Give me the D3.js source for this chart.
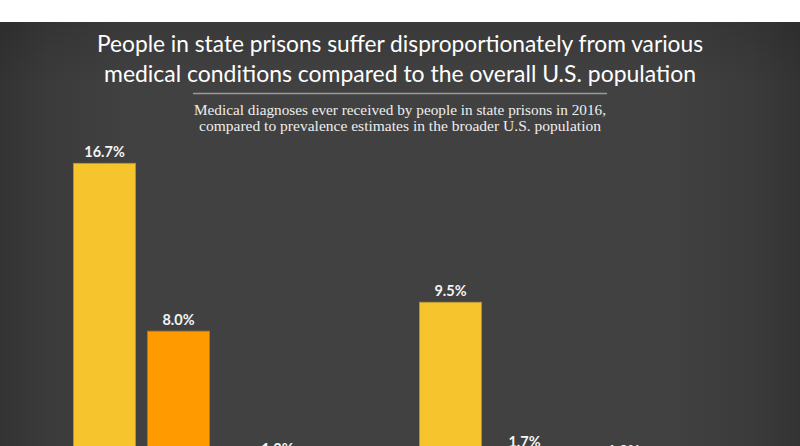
<!DOCTYPE html>
<html>
<head>
<meta charset="utf-8">
<script src="https://cdn.jsdelivr.net/npm/d3@7"></script>
<style>
  html, body { margin: 0; padding: 0; background: #ffffff; }
  svg { display: block; }
</style>
</head>
<body>
<div id="chart"></div>
<script>
// ---- data ----
const categories = ["Condition 1", "Condition 2", "Condition 3", "Condition 4"];
const seriesNames = ["People in state prisons", "U.S. population"];
const prisonValues = [16.7, 1.3, 9.5, 1.2];
const usValues = [8.0, 0.4, 1.7, 0.3];
const titleLines = [
  "People in state prisons suffer disproportionately from various",
  "medical conditions compared to the overall U.S. population"
];
const subtitleLines = [
  "Medical diagnoses ever received by people in state prisons in 2016,",
  "compared to prevalence estimates in the broader U.S. population"
];

const W = 800, H = 446;
const svg = d3.select("#chart").append("svg")
  .attr("width", W).attr("height", H)
  .style("overflow", "hidden");

const defs = svg.append("defs");
const g = defs.append("linearGradient").attr("id", "bg")
  .attr("x1", "0%").attr("x2", "100%").attr("y1", "0%").attr("y2", "0%");
[[0, "#333333"], [0.06, "#3b3b3b"], [0.16, "#414141"], [0.84, "#414141"], [0.94, "#3b3b3b"], [1, "#333333"]]
  .forEach(([o, c]) => g.append("stop").attr("offset", o).attr("stop-color", c));
const gv = defs.append("linearGradient").attr("id", "bgv")
  .attr("x1", "0%").attr("x2", "0%").attr("y1", "0%").attr("y2", "100%");
gv.append("stop").attr("offset", 0).attr("stop-color", "#000").attr("stop-opacity", 0.12);
gv.append("stop").attr("offset", 0.15).attr("stop-color", "#000").attr("stop-opacity", 0);

svg.append("rect").attr("x", 0).attr("y", 0).attr("width", W).attr("height", H).attr("fill", "#ffffff");
svg.append("rect").attr("x", 0).attr("y", 22).attr("width", W).attr("height", H - 22).attr("fill", "url(#bg)");
svg.append("rect").attr("x", 0).attr("y", 22).attr("width", W).attr("height", H - 22).attr("fill", "url(#bgv)");

// ---- titles ----
const titleFont = "Lato, 'Open Sans', sans-serif";
const titleBase = [52, 81.5];
const titleLen = [606, 592];
titleLines.forEach((t, i) => {
  svg.append("text")
    .attr("x", 400).attr("y", titleBase[i])
    .attr("text-anchor", "middle")
    .attr("font-family", titleFont)
    .attr("font-size", 23.5)
    .attr("fill", "#ffffff")
    .attr("textLength", titleLen[i])
    .attr("lengthAdjust", "spacingAndGlyphs")
    .text(t);
});

svg.append("line")
  .attr("x1", 193).attr("x2", 607).attr("y1", 93.5).attr("y2", 93.5)
  .attr("stroke", "#9a9a9a").attr("stroke-width", 1.5);

const subBase = [114.5, 130.5];
const subLen = [412, 402];
subtitleLines.forEach((t, i) => {
  svg.append("text")
    .attr("x", 400).attr("y", subBase[i])
    .attr("text-anchor", "middle")
    .attr("font-family", "'Liberation Serif', 'DejaVu Serif', serif")
    .attr("font-size", 15)
    .attr("fill", "#eeeeee")
    .attr("textLength", subLen[i])
    .attr("lengthAdjust", "spacingAndGlyphs")
    .text(t);
});

// ---- scales ----
const rows = categories.map((c, i) => ({ category: c, values: [prisonValues[i], usValues[i]] }));

const x0 = d3.scaleBand().domain(categories).range([73.5, 728.5]).paddingInner(37 / 173).paddingOuter(0);
const x1 = d3.scaleBand().domain(seriesNames).range([0, x0.bandwidth()]).paddingInner(12 / 74).paddingOuter(0);
const y = d3.scaleLinear().domain([0, d3.max(prisonValues)]).range([485.5, 163.3]);
const color = d3.scaleOrdinal().domain(seriesNames).range(["#f6c42d", "#ff9a00"]);
const stroke = d3.scaleOrdinal().domain(seriesNames).range(["#b8953a", "#b87a2a"]);

const groups = svg.append("g").selectAll("g").data(rows).join("g")
  .attr("transform", d => `translate(${x0(d.category)},0)`);

const items = d => seriesNames.map((s, j) => ({ series: s, value: d.values[j] }));

groups.selectAll("rect").data(items).join("rect")
  .attr("x", d => x1(d.series))
  .attr("y", d => y(d.value))
  .attr("width", x1.bandwidth())
  .attr("height", d => y(0) - y(d.value))
  .attr("fill", d => color(d.series))
  .attr("stroke", d => stroke(d.series))
  .attr("stroke-width", 0.8);

groups.selectAll("text").data(items).join("text")
  .attr("x", d => x1(d.series) + x1.bandwidth() / 2)
  .attr("y", d => y(d.value) - 6)
  .attr("text-anchor", "middle")
  .attr("font-family", titleFont)
  .attr("font-weight", "bold")
  .attr("font-size", 14.5)
  .attr("fill", "#f4f4f4")
  .text(d => d3.format(".1f")(d.value) + "%");
</script>
</body>
</html>
